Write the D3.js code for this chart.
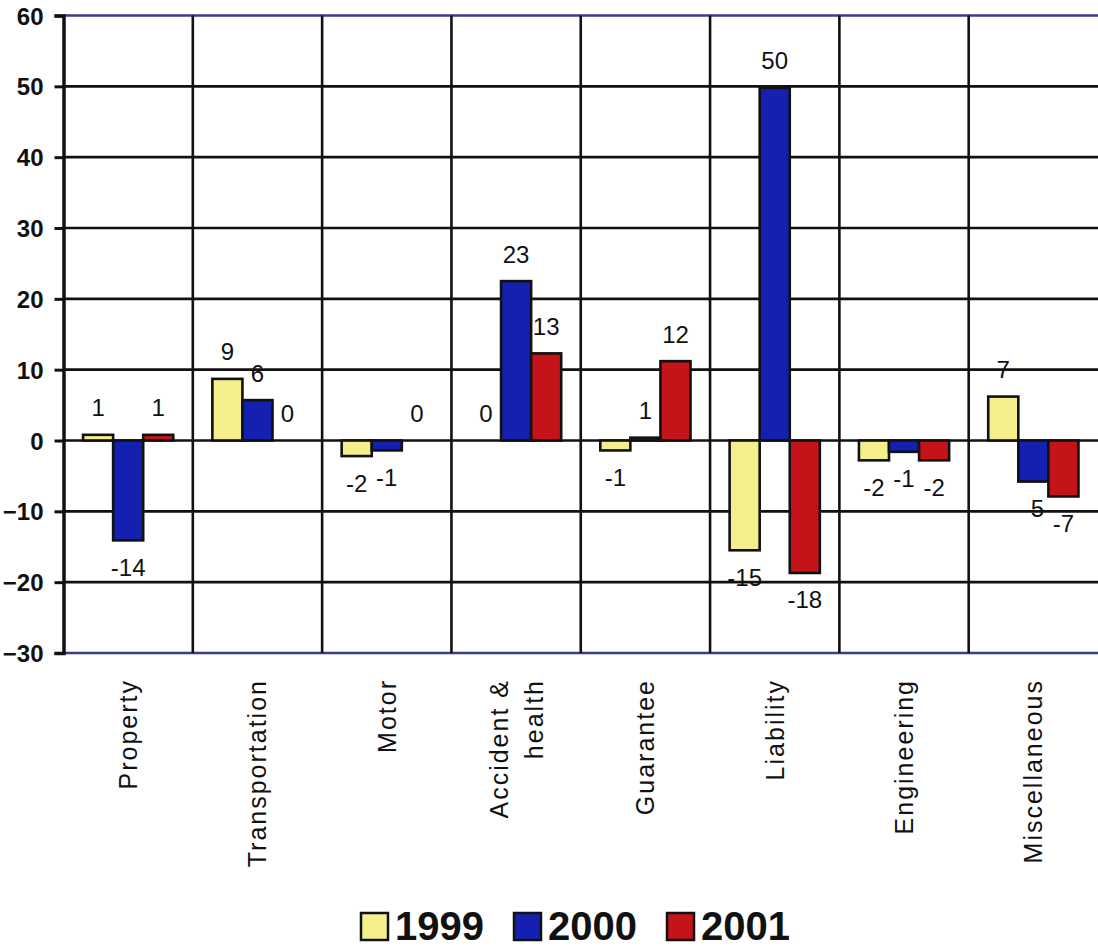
<!DOCTYPE html>
<html>
<head>
<meta charset="utf-8">
<script src="https://cdn.jsdelivr.net/npm/d3@7"></script>
<style>
  html, body { margin: 0; padding: 0; background: #fff; }
  svg { display: block; }
</style>
</head>
<body>
<svg id="chart" width="1098" height="949"></svg>
<script>
// ---- data ----
const categories = ["Property", "Transportation", "Motor", "Accident &\nhealth", "Guarantee", "Liability", "Engineering", "Miscellaneous"];
const seriesNames = ["1999", "2000", "2001"];
const values1999 = [0.8, 8.7, -2.2, 0, -1.4, -15.5, -2.8, 6.2];
const values2000 = [-14.1, 5.7, -1.4, 22.5, 0.4, 49.8, -1.6, -5.8];
const values2001 = [0.8, 0, 0, 12.3, 11.2, -18.7, -2.8, -7.9];
const labels1999 = ["1", "9", "-2", "0", "-1", "-15", "-2", "7"];
const labels2000 = ["-14", "6", "-1", "23", "1", "50", "-1", "-5"];
const labels2001 = ["1", "0", "0", "13", "12", "-18", "-2", "-7"];
const yTicks = [60, 50, 40, 30, 20, 10, 0, -10, -20, -30];
const colors = ["#f4ef8c", "#1420b0", "#c4141a"];

const seriesValues = [values1999, values2000, values2001];
const seriesLabels = [labels1999, labels2000, labels2001];

// ---- layout ----
const svg = d3.select("#chart");
const plotLeft = 63.5, plotRight = 1098, plotTop = 15.5, plotBottom = 653;

const x = d3.scaleBand().domain(categories).range([plotLeft, plotRight]).paddingInner(0).paddingOuter(0);
const xs = d3.scaleBand().domain(seriesNames).range([0, x.bandwidth()]).paddingInner(0).paddingOuter(0.65);
const y = d3.scaleLinear().domain([-30, 60]).range([plotBottom, plotTop]);

const font = "'Liberation Sans', Arial, Helvetica, sans-serif";

// horizontal gridlines
svg.append("g").selectAll("line").data(yTicks.filter(t => t !== 60 && t !== -30)).join("line")
  .attr("x1", plotLeft).attr("x2", plotRight)
  .attr("y1", d => y(d)).attr("y2", d => y(d))
  .attr("stroke", "#111").attr("stroke-width", 2.6);

// top & bottom border (navy)
svg.append("g").selectAll("line").data([60, -30]).join("line")
  .attr("x1", plotLeft).attr("x2", plotRight)
  .attr("y1", d => y(d)).attr("y2", d => y(d))
  .attr("stroke", "#3b3b8c").attr("stroke-width", 2.4);

// vertical gridlines at category boundaries
svg.append("g").selectAll("line").data(categories.slice(1)).join("line")
  .attr("x1", d => x(d)).attr("x2", d => x(d))
  .attr("y1", y(60)).attr("y2", y(-30))
  .attr("stroke", "#111").attr("stroke-width", 2.6);

// bars
const barData = [];
seriesNames.forEach((s, si) => {
  categories.forEach((c, ci) => {
    barData.push({ s, si, c, v: seriesValues[si][ci], label: seriesLabels[si][ci] });
  });
});

svg.append("g").selectAll("rect").data(barData.filter(d => d.v !== 0)).join("rect")
  .attr("x", d => x(d.c) + xs(d.s))
  .attr("width", xs.bandwidth())
  .attr("y", d => Math.min(y(d.v), y(0)))
  .attr("height", d => Math.abs(y(d.v) - y(0)))
  .attr("fill", d => colors[d.si])
  .attr("stroke", "#111").attr("stroke-width", 2.6);

// data labels
svg.append("g").selectAll("text").data(barData).join("text")
  .attr("x", d => x(d.c) + xs(d.s) + xs.bandwidth() / 2)
  .attr("y", d => (d.v >= 0 ? y(d.v) - 27 : y(d.v) + 27) + 8.5)
  .attr("text-anchor", "middle")
  .attr("font-family", font).attr("font-size", 24)
  .attr("fill", "#111")
  .text(d => d.label);

// y axis
const yAxis = d3.axisLeft(y).tickValues(yTicks).tickSize(9).tickFormat(d3.format("d"));
const ga = svg.append("g").attr("transform", `translate(${plotLeft},0)`).call(yAxis);
ga.select(".domain").attr("stroke", "#111").attr("stroke-width", 3.5);
ga.selectAll(".tick line").attr("stroke", "#111").attr("stroke-width", 3);
ga.selectAll(".tick text")
  .attr("font-family", font).attr("font-size", 24).attr("font-weight", "bold")
  .attr("fill", "#111").attr("x", -20).attr("dy", "0.36em");

// category labels (rotated)
const catG = svg.append("g");
categories.forEach(c => {
  const lines = c.split("\n");
  const cx = x(c) + x.bandwidth() / 2;
  const lh = 35;
  const firstBase = cx + 9 - (lines.length - 1) * lh / 2;
  const t = catG.append("text")
    .attr("transform", `translate(${firstBase},679) rotate(-90)`)
    .attr("text-anchor", "end")
    .attr("font-family", font).attr("font-size", 25)
    .attr("letter-spacing", 2)
    .attr("fill", "#111");
  lines.forEach((ln, i) => {
    t.append("tspan").attr("x", 0).attr("dy", i === 0 ? 0 : lh).text(ln);
  });
});

// legend
const legendX = [361, 514, 667];
const lg = svg.append("g");
seriesNames.forEach((s, i) => {
  lg.append("rect")
    .attr("x", legendX[i]).attr("y", 913)
    .attr("width", 27).attr("height", 27)
    .attr("fill", colors[i]).attr("stroke", "#111").attr("stroke-width", 2.5);
  lg.append("text")
    .attr("x", legendX[i] + 34).attr("y", 940)
    .attr("font-family", font).attr("font-size", 40).attr("font-weight", "bold")
    .attr("fill", "#111")
    .text(s);
});
</script>
</body>
</html>
